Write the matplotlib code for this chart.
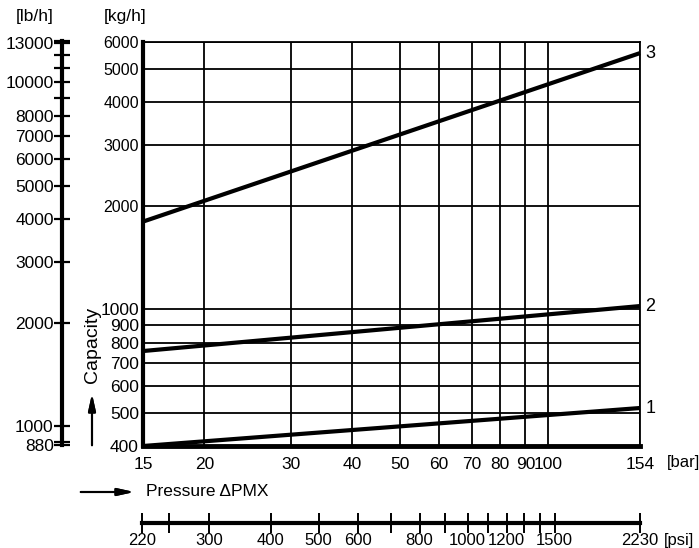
import matplotlib
matplotlib.use('Agg')
import matplotlib.pyplot as plt
from matplotlib.ticker import NullFormatter, FixedLocator

plt.rcParams['font.family'] = ['Liberation Sans', 'DejaVu Sans']
narrow = ['Liberation Sans Narrow', 'Liberation Sans', 'DejaVu Sans']

# data
pressure_bar = [15, 154]
curve_1 = [400, 516]
curve_2 = [756, 1022]
curve_3 = [1800, 5570]
curve_names = ['1', '2', '3']

bar_ticks = [15, 20, 30, 40, 50, 60, 70, 80, 90, 100, 154]
kg_ticks = [400, 500, 600, 700, 800, 900, 1000, 2000, 3000, 4000, 5000, 6000]
lb_ticks = [880, 1000, 2000, 3000, 4000, 5000, 6000, 7000, 8000, 10000, 13000]
lb_minor = [900, 9000, 11000, 12000, 13200]
psi_ticks = [220, 300, 400, 500, 600, 800, 1000, 1200, 1500, 2230]
psi_minor = [250, 700, 900, 1100, 1300, 1400]
kg_to_lb = 2.2

W, H = 699, 548
fig = plt.figure(figsize=(W / 100, H / 100), dpi=100)

# main chart (bar / kg/h)
ax = fig.add_axes([143 / W, 1 - 446 / H, 497 / W, 404 / H])
ax.set_xscale('log')
ax.set_yscale('log')
ax.set_xlim(15, 154)
ax.set_ylim(400, 6000)
ax.xaxis.set_major_locator(FixedLocator(bar_ticks))
ax.xaxis.set_minor_locator(FixedLocator([]))
ax.yaxis.set_major_locator(FixedLocator(kg_ticks))
ax.yaxis.set_minor_locator(FixedLocator([]))
ax.set_xticklabels([str(v) for v in bar_ticks], family=narrow, fontsize=12.5)
ax.set_yticklabels([str(v) for v in kg_ticks])
for v, lab in zip(kg_ticks, ax.get_yticklabels()):
    if v <= 1000:
        lab.set_family(narrow)
        lab.set_fontsize(12.5)
    else:
        lab.set_fontsize(11.5)
ax.tick_params(axis='x', length=0, pad=8)
ax.tick_params(axis='y', length=0, pad=3)
ax.grid(True, which='major', color='black', lw=1.3)
ax.spines['left'].set_linewidth(3)
ax.spines['bottom'].set_linewidth(3.5)
ax.spines['top'].set_linewidth(1.3)
ax.spines['right'].set_linewidth(1.3)

for name, c in zip(curve_names, [curve_1, curve_2, curve_3]):
    ax.plot(pressure_bar, c, color='black', lw=3, solid_capstyle='butt', clip_on=False)
    ax.annotate(name, xy=(pressure_bar[-1], c[-1]), xytext=(4, 0), textcoords='offset points',
                fontsize=13, family=narrow, va='center', ha='left')

# lb/h scale on the left
ax_lb = fig.add_axes([62 / W, 1 - 445 / H, 0.0001, 404 / H])
ax_lb.set_yscale('log')
ax_lb.set_ylim(400 * kg_to_lb, 6000 * kg_to_lb)
ax_lb.yaxis.set_major_locator(FixedLocator(lb_ticks))
ax_lb.yaxis.set_minor_locator(FixedLocator(lb_minor))
ax_lb.yaxis.set_minor_formatter(NullFormatter())
ax_lb.set_yticklabels([str(v) for v in lb_ticks])
ax_lb.tick_params(axis='y', which='both', direction='inout', length=12, width=1.6,
                  labelsize=12.5, pad=0)
ax_lb.set_xticks([])
for s in ['top', 'right', 'bottom']:
    ax_lb.spines[s].set_visible(False)
ax_lb.spines['left'].set_linewidth(3)
ax_lb.patch.set_visible(False)

# psi scale at the bottom
ax_psi = fig.add_axes([142 / W, 1 - 523 / H, 498 / W, 0.0001])
ax_psi.set_xscale('log')
ax_psi.set_xlim(220, 2230)
ax_psi.xaxis.set_major_locator(FixedLocator(psi_ticks))
ax_psi.xaxis.set_minor_locator(FixedLocator(psi_minor))
ax_psi.xaxis.set_minor_formatter(NullFormatter())
ax_psi.set_xticklabels([str(v) for v in psi_ticks])
ax_psi.tick_params(axis='x', which='both', direction='inout', length=15, width=1.4,
                   labelsize=12, pad=0)
ax_psi.set_yticks([])
for s in ['top', 'right', 'left']:
    ax_psi.spines[s].set_visible(False)
ax_psi.spines['bottom'].set_linewidth(3)
ax_psi.patch.set_visible(False)

# units and axis titles
fig.text(35 / W, 1 - 16 / H, '[lb/h]', fontsize=12.5, ha='center', va='center')
fig.text(125 / W, 1 - 16 / H, '[kg/h]', fontsize=12.5, ha='center', va='center')
fig.text(667 / W, 1 - 463 / H, '[bar]', fontsize=12, ha='left', va='center')
fig.text(664 / W, 1 - 540 / H, '[psi]', fontsize=12, ha='left', va='center')
fig.text(146 / W, 1 - 492 / H, 'Pressure \u0394PMX', fontsize=12.5, ha='left', va='center')
fig.text(92 / W, 1 - 345 / H, 'Capacity', fontsize=14, rotation=90, ha='center', va='center')

arrow = dict(arrowstyle='-|>,head_length=1.0,head_width=0.22', color='black', lw=1.5)
fig.add_artist(plt.annotate('', xy=(137 / W, 1 - 492 / H), xytext=(78 / W, 1 - 492 / H),
                            xycoords='figure fraction', arrowprops=arrow))
fig.add_artist(plt.annotate('', xy=(92 / W, 1 - 391 / H), xytext=(92 / W, 1 - 448 / H),
                            xycoords='figure fraction', arrowprops=arrow))

fig.savefig('out.png', dpi=100)
